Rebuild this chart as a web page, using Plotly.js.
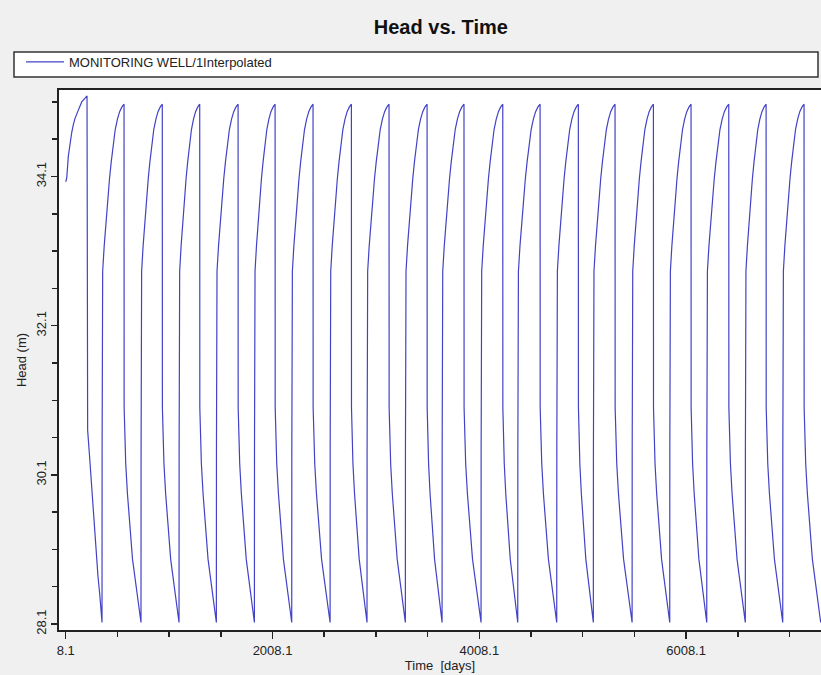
<!DOCTYPE html>
<html>
<head>
<meta charset="utf-8">
<script src="https://cdn.plot.ly/plotly-3.0.1.min.js"></script>
<style>html,body{margin:0;padding:0;background:#f0f0f0;}#chart{width:821px;height:675px;}</style>
</head>
<body>
<div id="chart"></div>
<script>
// ---- data ----
const seriesName = 'MONITORING WELL/1Interpolated';

// first (partial) cycle: start of record up to first peak
const firstRiseDays = [8.1, 18, 33, 50, 66, 82, 98, 130, 163, 214];
const firstRiseHead = [34.03, 34.08, 34.37, 34.55, 34.69, 34.80, 34.88, 34.99, 35.10, 35.18];
// first drawdown after the first peak
const firstFallDays = [214, 215, 220, 237, 254, 270, 287, 303, 320, 337, 350, 359];
const firstFallHead = [35.18, 33.2, 30.70, 30.38, 30.03, 29.71, 29.39, 28.97, 28.74, 28.50, 28.30, 28.12];

// day of each peak (sudden drop) and of each trough (sudden rise)
const dropDays   = [214, 572, 942, 1304, 1675, 2033, 2400, 2771, 3135, 3503, 3860, 4235, 4596, 4966, 5321, 5692, 6056, 6421, 6782, 7149];
const troughDays = [359, 736, 1104, 1465, 1833, 2194, 2565, 2922, 3293, 3648, 4025, 4380, 4757, 5111, 5486, 5850, 6208, 6581, 6943, 7310];

// recovery shape read from a typical cycle (share of recovery period, head)
const riseShare = [0, 0.004, 0.03, 0.10, 0.18, 0.26, 0.34, 0.42, 0.50, 0.60, 0.70, 0.80, 0.90, 1.0];
const riseHead  = [28.12, 30.42, 32.83, 33.17, 33.50, 33.80, 34.07, 34.30, 34.52, 34.73, 34.87, 34.97, 35.03, 35.07];
// drawdown shape read from a typical cycle (share of pumping period, head)
const fallShare = [0, 0.006, 0.03, 0.10, 0.20, 0.30, 0.40, 0.50, 0.60, 0.70, 0.80, 0.90, 1.0];
const fallHead  = [35.07, 31.00, 30.65, 30.25, 29.85, 29.55, 29.20, 28.97, 28.80, 28.62, 28.43, 28.26, 28.12];

const xTickStart = 8.1, xTickStep = 2000, xMinorStep = 500;
const yTickStart = 28.1, yTickStep = 2, yMinorStep = 0.5;

// ---- build the series ----
const xs = [], ys = [];
firstRiseDays.forEach((d, i) => { xs.push(d); ys.push(firstRiseHead[i]); });
firstFallDays.forEach((d, i) => { if (i > 0) { xs.push(d); ys.push(firstFallHead[i]); } });
for (let k = 1; k < dropDays.length; k++) {
  const t0 = troughDays[k - 1], t1 = dropDays[k];
  riseShare.forEach((s, i) => { if (i > 0) { xs.push(t0 + s * (t1 - t0)); ys.push(riseHead[i]); } });
  const t2 = troughDays[k];
  fallShare.forEach((s, i) => { if (i > 0) { xs.push(t1 + s * (t2 - t1)); ys.push(fallHead[i]); } });
}

const FONT = 'Liberation Sans, Arial, sans-serif';
const trace = {
  x: xs, y: ys, type: 'scatter', mode: 'lines', name: seriesName,
  line: { color: '#4242c6', width: 1.2 }, showlegend: true
};

// plot area: px 59..821 horizontally, 90..630 vertically
const PL = 59, PW = 762, PT = 90, PH = 540;
const px2x = p => (p - PL) / PW;
const px2y = p => (PT + PH - p) / PH;

const layout = {
  width: 821, height: 675,
  paper_bgcolor: '#f0f0f0', plot_bgcolor: '#ffffff',
  margin: { l: 59, r: 0, t: 90, b: 45, pad: 0 },
  font: { family: FONT, size: 13, color: '#222' },
  title: { text: '<b>Head vs. Time</b>', font: { family: FONT, size: 20, color: '#111' },
           xref: 'container', x: 0.537, xanchor: 'center', yref: 'container', y: 0.96, yanchor: 'middle' },
  showlegend: true,
  legend: { orientation: 'v', x: px2x(14), xanchor: 'left', y: px2y(62), yanchor: 'middle',
            bgcolor: 'rgba(0,0,0,0)', borderwidth: 0, indentation: 7, itemwidth: 38,
            font: { family: FONT, size: 13, color: '#222' } },
  shapes: [{ type: 'rect', xref: 'paper', yref: 'paper', layer: 'below',
             x0: px2x(14), x1: px2x(818), y0: px2y(77), y1: px2y(52),
             fillcolor: '#ffffff', line: { color: '#333', width: 1.5 } }],
  xaxis: {
    range: [-57, 7313], tick0: xTickStart, dtick: xTickStep, tickformat: '.1f',
    ticks: 'outside', ticklen: 7, tickwidth: 1.5, tickcolor: '#222',
    showline: true, linecolor: '#222', linewidth: 2, mirror: true, showgrid: false, zeroline: false,
    minor: { tick0: xTickStart, dtick: xMinorStep, ticks: 'outside', ticklen: 5, tickwidth: 1.5, tickcolor: '#222', showgrid: false },
    tickfont: { family: FONT, size: 13, color: '#222' }, automargin: false,
    title: { text: 'Time \u00a0[days]', font: { family: FONT, size: 13, color: '#222' }, standoff: 2 }
  },
  yaxis: {
    range: [28.02, 35.26], tick0: yTickStart, dtick: yTickStep, tickformat: '.1f', tickangle: -90,
    ticks: 'outside', ticklen: 6, tickwidth: 1.5, tickcolor: '#222',
    showline: true, linecolor: '#222', linewidth: 2, mirror: false, showgrid: false, zeroline: false,
    minor: { tick0: yTickStart, dtick: yMinorStep, ticks: 'outside', ticklen: 5, tickwidth: 1.5, tickcolor: '#222', showgrid: false },
    tickfont: { family: FONT, size: 13, color: '#222' }, automargin: false,
    title: { text: 'Head (m)', font: { family: FONT, size: 13, color: '#222' }, standoff: 4 }
  }
};

Plotly.newPlot('chart', [trace], layout, { displayModeBar: false, staticPlot: true });
</script>
</body>
</html>
